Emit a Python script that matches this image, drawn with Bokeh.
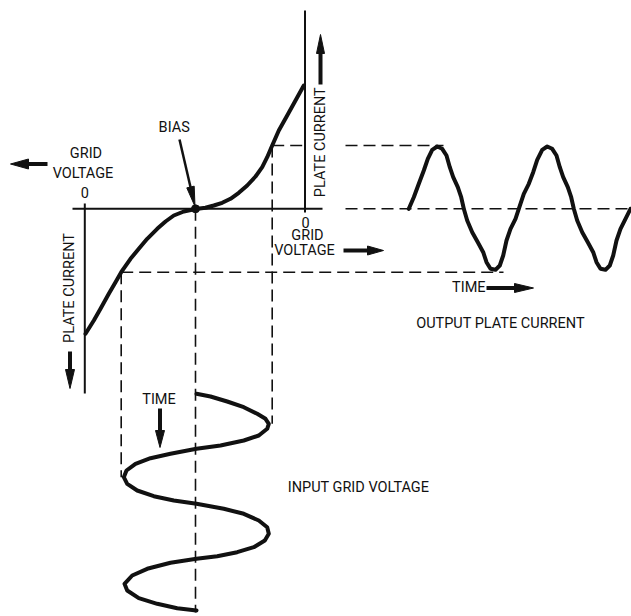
import math
from bokeh.plotting import figure
from bokeh.models import Range1d
from bokeh.core.properties import value
from bokeh.embed import file_html
from bokeh.resources import INLINE

# ---- data (diagram coordinates) ----
# transfer characteristic: grid voltage (x) -> plate current (y, down = negative)
curve_v = [85, 93.3, 100, 108.3, 115, 120.7, 130, 138.3, 146.7, 156.7, 165, 173.3, 183.3,
           195, 205, 213.3, 221.7, 230, 238.3, 246.7, 255, 261.7, 266.7, 271.7, 278.3,
           286.7, 295, 303.3]
curve_i = [333.3, 320, 308.3, 293.3, 281.7, 271.7, 258.3, 248.3, 238.3, 228.3, 221, 215, 211,
           208.5, 207.3, 205, 202.3, 198.3, 192.3, 185, 176, 166.7, 156.7, 145, 130,
           115, 100, 85]

# output plate current vs time
out_t = [408.3, 413.3, 418.3, 423.3, 427.3, 431.7, 436.7, 441.7, 446, 449.3, 452.7, 457.3,
         460.7, 463.3, 466.7, 471.7, 477.3, 482.7, 486, 490, 495, 499.3, 502.7, 506, 510,
         515, 518.3, 523.3, 528.3, 532.7, 536.7, 541.7, 546.7, 551.7, 556, 559.3, 562.7,
         567.3, 570.7, 573.3, 576.7, 581.7, 587.3, 592.7, 596, 600, 605, 609.3, 612.7, 616,
         620, 625, 630]
out_i = [208.3, 196.7, 183.3, 170, 158.3, 149.3, 146, 148.3, 155, 166.7, 176.7, 186.7,
         196.7, 208.3, 220, 231.7, 241.7, 251.7, 261.7, 268.3, 269.3, 265, 255, 240, 228.3,
         218.3, 208.3, 193.3, 183.3, 171.7, 159.3, 149.3, 146, 148.3, 155, 166.7, 176.7,
         186.7, 196.7, 208.3, 220, 231.7, 241.7, 251.7, 261.7, 268.3, 269.3, 265, 255, 240,
         228.3, 218.3, 208.3]

# input grid voltage vs time (time runs downward)
in_v = [196, 210, 226.7, 243.3, 256.7, 265, 268.3, 266.7, 258.3, 243.3, 220, 196, 170, 150,
        135, 126, 123.3, 126.7, 136.7, 153.3, 173.3, 196, 223.3, 243.3, 258.3, 266.7, 268.3,
        264.3, 253.3, 236.7, 216.7, 196, 170, 146.7, 131.7, 124, 126.7, 138.3, 156.7, 176.7,
        196]
in_t = [393.3, 396, 401, 406.7, 413.3, 418.3, 423.3, 428.3, 435, 440, 445, 448.3, 453.3,
        457.7, 463.3, 470, 476.7, 483.3, 490, 495.7, 500, 503.3, 508.3, 513.3, 520, 526.7,
        533.3, 540, 546.7, 551.7, 555.7, 558.3, 562.3, 568.3, 575, 583.3, 590, 597.7, 603.3,
        607.7, 610]

# key levels
bias_v, zero_i = 195, 208.3
v_min, v_max = 120.7, 271.7
i_min, i_max = 271.7, 145
left_axis_v, right_axis_v = 84.3, 304.5
in_peak_left_t, in_peak_right_t = 476.7, 423.3
in_end_t = 612
out_start_t, out_end_t = 408.3, 630
out_peak_t, out_trough_t = 443, 503
label_gap_end = 345

# texts
labels = ["GRID", "VOLTAGE", "0", "BIAS", "0", "GRID", "VOLTAGE", "TIME",
          "OUTPUT PLATE CURRENT", "TIME", "INPUT GRID VOLTAGE"]
label_x = [85.5, 82.5, 84.3, 173.7, 305, 307, 304, 468.3, 500, 158.5, 358]
label_y = [152.7, 172.7, 191.7, 126.7, 221.7, 235, 249.5, 287.3, 323.3, 399, 486.7]
vlabels = ["PLATE CURRENT", "PLATE CURRENT"]
vlabel_x = [69.3, 320]
vlabel_y = [287.5, 141.7]

# arrows (tail -> tip)
arrow_tail_x = [47, 179, 69.5, 320, 343, 486, 159.5]
arrow_tail_y = [163.5, 139, 351, 84, 250, 287.5, 408]
arrow_tip_x = [10, 194.5, 69.5, 320, 383, 533, 159.5]
arrow_tip_y = [163.5, 206, 388, 34, 250, 287.5, 447]
arrow_shaft_w = [4, 2.5, 4, 4, 4, 4, 4]
arrow_head_len = [18, 20, 19, 19, 16, 19, 17]
arrow_head_half = [5, 3.8, 4.5, 4, 4.5, 4.5, 4.5]

FONT = "Roboto"
FONT_SIZE = "14.5px"
INK = "#111111"

p = figure(width=631, height=616, x_range=Range1d(0, 631), y_range=Range1d(616, 0),
           output_backend="svg", toolbar_location=None, min_border=0)
p.axis.visible = False
p.grid.visible = False
p.outline_line_color = None
p.background_fill_color = "white"

# solid axes
p.segment(x0=[72, left_axis_v, right_axis_v], y0=[zero_i, 203, 10],
          x1=[322, left_axis_v, right_axis_v], y1=[zero_i, 393, 212],
          line_color=INK, line_width=2)

# dashed projection lines
dx0 = [v_min, bias_v, v_max, v_min, v_max, label_gap_end, label_gap_end]
dy0 = [i_min, zero_i, i_max, i_min, i_max, i_max, zero_i]
dx1 = [v_min, bias_v, v_max, out_trough_t, right_axis_v, out_peak_t, out_end_t]
dy1 = [in_peak_left_t, in_end_t, in_peak_right_t, i_min, i_max, i_max, zero_i]
p.segment(x0=dx0, y0=dy0, x1=dx1, y1=dy1, line_color=INK, line_width=1.6,
          line_dash="12 6")

# curves
for xs, ys in [(curve_v, curve_i), (out_t, out_i), (in_v, in_t)]:
    p.line(xs, ys, line_color=INK, line_width=4, line_join="round", line_cap="round")

# bias point
p.scatter([bias_v], [zero_i], size=8, color=INK)

# arrows
hx, hy, sx0, sy0, sx1, sy1 = [], [], [], [], [], []
for tx, ty, px, py, hl, hh in zip(arrow_tail_x, arrow_tail_y, arrow_tip_x, arrow_tip_y,
                                  arrow_head_len, arrow_head_half):
    L = math.hypot(px - tx, py - ty)
    ux, uy = (px - tx) / L, (py - ty) / L
    bx, by = px - ux * hl, py - uy * hl
    nx, ny = -uy, ux
    hx.append([px, bx + nx * hh, bx - nx * hh])
    hy.append([py, by + ny * hh, by - ny * hh])
    sx0.append(tx); sy0.append(ty); sx1.append(bx + ux * 2); sy1.append(by + uy * 2)
p.segment(x0=sx0, y0=sy0, x1=sx1, y1=sy1, line_color=INK, line_width=arrow_shaft_w)
p.patches(hx, hy, fill_color=INK, line_color=INK, line_width=1)

# labels
p.text(x=label_x, y=label_y, text=labels, text_font=value(FONT), text_font_size=FONT_SIZE,
       text_align="center", text_baseline="middle", text_color=INK)
p.text(x=vlabel_x, y=vlabel_y, text=vlabels, angle=math.pi / 2, text_font=value(FONT),
       text_font_size=FONT_SIZE, text_align="center", text_baseline="middle", text_color=INK)

open("out.html", "w").write(file_html(p, INLINE))
